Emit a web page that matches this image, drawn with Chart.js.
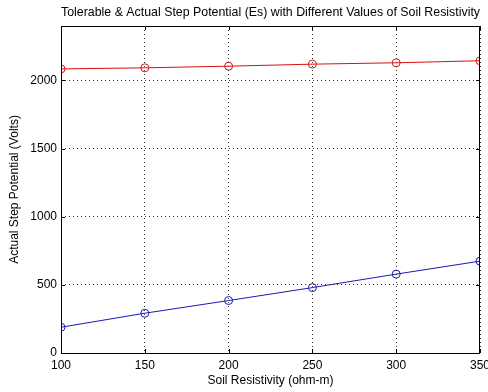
<!DOCTYPE html>
<html>
<head>
<meta charset="utf-8">
<script src="https://cdn.jsdelivr.net/npm/chart.js@4/dist/chart.umd.min.js"></script>
<style>
  html, body { margin: 0; padding: 0; background: #fff; }
  #wrap { width: 488px; height: 392px; }
</style>
</head>
<body>
<div id="wrap"><canvas id="chart" width="488" height="392"></canvas></div>
<script>
// soil resistivity (ohm-m)
const resistivity = [100, 150, 200, 250, 300, 350];
// tolerable step potential (red)
const tolerableStep = [2085, 2093, 2105, 2120, 2130, 2145];
// actual step potential (blue)
const actualStep = [189, 292, 385, 480, 579, 674];
// axis ticks
const xTicks = [100, 150, 200, 250, 300, 350];
const yTicks = [0, 500, 1000, 1500, 2000];

const FONT = "'Liberation Sans', Arial, sans-serif";

// MATLAB style box with inward ticks
const boxPlugin = {
    id: 'box',
    afterDraw(chart) {
        const ctx = chart.ctx;
        const a = chart.chartArea;
        const xs = chart.scales.x, ys = chart.scales.y;
        ctx.save();
        ctx.strokeStyle = '#000';
        ctx.lineWidth = 1;
        ctx.strokeRect(Math.round(a.left) + 0.5, Math.round(a.top) + 0.5,
            Math.round(a.right - a.left) - 1, Math.round(a.bottom - a.top));
        ctx.beginPath();
        xs.ticks.forEach(t => {
            const x = Math.round(xs.getPixelForValue(t.value)) + 0.5;
            ctx.moveTo(x, a.bottom); ctx.lineTo(x, a.bottom - 4);
            ctx.moveTo(x, a.top); ctx.lineTo(x, a.top + 4);
        });
        ys.ticks.forEach(t => {
            const y = Math.round(ys.getPixelForValue(t.value)) + 0.5;
            ctx.moveTo(a.left, y); ctx.lineTo(a.left + 4, y);
            ctx.moveTo(a.right, y); ctx.lineTo(a.right - 4, y);
        });
        ctx.stroke();
        ctx.restore();
    }
};

const ctx = document.getElementById('chart').getContext('2d');
new Chart(ctx, {
    type: 'line',
    data: {
        datasets: [{
            label: 'Tolerable',
            data: resistivity.map((r, i) => ({x: r, y: tolerableStep[i]})),
            borderColor: '#dc1010',
            backgroundColor: 'rgba(0,0,0,0)',
            borderWidth: 1,
            pointRadius: 4,
            pointBorderWidth: 1,
            pointBackgroundColor: 'rgba(0,0,0,0)',
            pointBorderColor: '#dc1010',
            tension: 0
        }, {
            label: 'Actual',
            data: resistivity.map((r, i) => ({x: r, y: actualStep[i]})),
            borderColor: '#1a1ab4',
            backgroundColor: 'rgba(0,0,0,0)',
            borderWidth: 1,
            pointRadius: 4,
            pointBorderWidth: 1,
            pointBackgroundColor: 'rgba(0,0,0,0)',
            pointBorderColor: '#1a1ab4',
            tension: 0
        }]
    },
    options: {
        responsive: false,
        animation: false,
        layout: { padding: { left: 0, right: 8, top: 0, bottom: 0 } },
        plugins: {
            legend: { display: false },
            tooltip: { enabled: false },
            title: {
                display: true,
                fullSize: false,
                text: 'Tolerable & Actual Step Potential (Es) with Different Values of Soil Resistivity',
                color: '#000',
                font: { family: FONT, size: 13, weight: 'normal' },
                padding: { top: 5, bottom: 5.4 }
            }
        },
        scales: {
            x: {
                type: 'linear',
                min: 100, max: 350,
                afterBuildTicks: s => { s.ticks = xTicks.map(v => ({value: v})); },
                ticks: { color: '#000', padding: 5, maxRotation: 0,
                    font: { family: FONT, size: 12 },
                    callback: v => String(v) },
                grid: { color: '#333', drawTicks: false },
                border: { display: false, dash: [1, 3] },
                title: { display: true, text: 'Soil Resistivity (ohm-m)', color: '#000',
                    font: { family: FONT, size: 12 }, padding: { top: 0, bottom: 4 } },
                afterFit: s => { s.height = 39; s.paddingLeft = 0; s.paddingRight = 0; }
            },
            y: {
                min: 0, max: 2400,
                afterBuildTicks: s => { s.ticks = yTicks.map(v => ({value: v})); },
                ticks: { color: '#000', padding: 4,
                    font: { family: FONT, size: 12 },
                    callback: v => String(v) },
                grid: { color: '#333', drawTicks: false },
                border: { display: false, dash: [1, 3] },
                title: { display: true, text: 'Actual Step Potential (Volts)', color: '#000',
                    font: { family: FONT, size: 12 }, padding: { top: 7, bottom: 0 } },
                afterFit: s => { s.width = 61; }
            }
        }
    },
    plugins: [boxPlugin]
});
</script>
</body>
</html>
